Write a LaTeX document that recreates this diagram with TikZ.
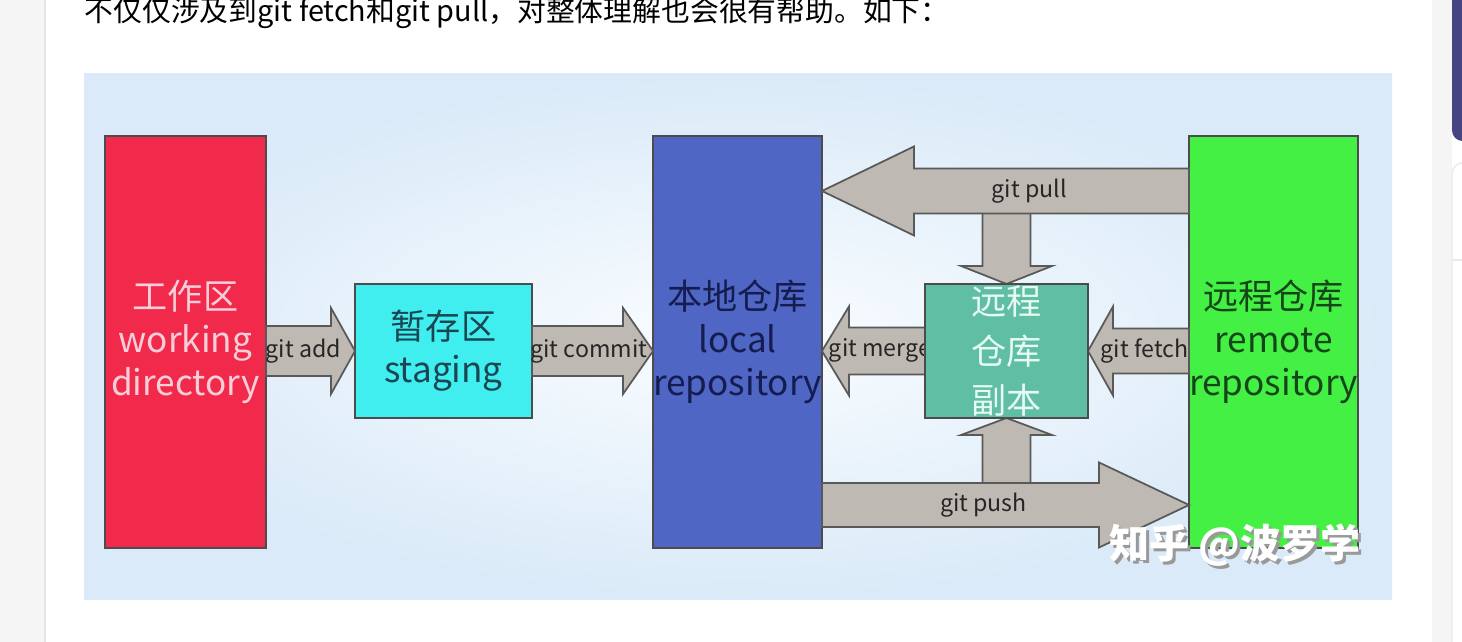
\documentclass[tikz,border=0pt]{standalone}
\usepackage{fontspec}
\setmainfont{Noto Sans CJK SC}
\usetikzlibrary{calc}

\definecolor{wdred}{RGB}{241,42,76}
\definecolor{stcyan}{RGB}{64,238,240}
\definecolor{locblue}{RGB}{79,102,196}
\definecolor{cpteal}{RGB}{96,190,164}
\definecolor{remgreen}{RGB}{68,240,68}
\definecolor{arrowgray}{RGB}{190,185,178}
\definecolor{bgin}{RGB}{250,253,255}
\definecolor{bgout}{RGB}{218,234,248}
\definecolor{sidepurple}{RGB}{70,68,130}

\tikzset{
  repo/.style={draw=black!70, line width=0.6pt, inner sep=0pt, outer sep=0pt,
    align=center, font=\fontsize{10}{12.2}\selectfont},
  blockarrow/.style={draw=black!65, line width=0.5pt, fill=arrowgray},
  lbl/.style={font=\fontsize{6.6}{8}\selectfont, text=black!85, inner sep=0pt},
}

% #1 start, #2 tip, #3 body half width, #4 head half width, #5 head length
\newcommand{\gitarrow}[5]{%
  \coordinate (hb) at ($(#2)!#5!(#1)$);
  \draw[blockarrow] ($(#1)!#3!90:(#2)$) -- ($(hb)!#3!90:(#2)$) -- ($(hb)!#4!90:(#2)$)
    -- (#2) -- ($(hb)!#4!-90:(#2)$) -- ($(hb)!#3!-90:(#2)$) -- ($(#1)!#3!-90:(#2)$) -- cycle;}

\begin{document}
\begin{tikzpicture}
\clip (0,0) rectangle (14.62,6.42);
\fill[white] (0,0) rectangle (14.62,6.42);
\fill[black!4] (0,0) rectangle (0.45,6.42);
\draw[black!10] (0.45,0) -- (0.45,6.42);
\fill[black!4] (14.32,0) rectangle (14.52,6.42);
\fill[sidepurple, rounded corners=3pt] (14.52,5.01) rectangle (14.8,6.6);
\filldraw[fill=white, draw=black!8, rounded corners=3pt] (14.52,-0.2) rectangle (14.8,4.79);
\draw[black!8] (14.52,3.82) -- (14.62,3.82);
\node[anchor=base west, inner sep=0pt, font=\fontsize{8.2}{9}\selectfont] (intro) at (0.84,6.2)
  {不仅仅涉及到git fetch和git pull，对整体理解也会很有帮助。如下：};

\shade[inner color=bgin, outer color=bgout] (0.84,0.42) rectangle (13.92,5.68);

\path node[repo, fill=wdred, text={rgb,255:red,248;green,206;blue,216},
    minimum width=1.61cm, minimum height=4.12cm] (wd) at (1.855,3.00) {工作区\\working\\directory}
  node[repo, fill=stcyan, text={rgb,255:red,25;green,70;blue,80},
    minimum width=1.77cm, minimum height=1.34cm] (stage) at (4.435,2.91) {暂存区\\staging}
  node[repo, fill=locblue, text={rgb,255:red,20;green,28;blue,80},
    minimum width=1.65cm, minimum height=4.12cm] (local) at (7.375,3.00) {本地仓库\\local\\repository}
  node[repo, fill=remgreen, text={rgb,255:red,20;green,70;blue,25},
    minimum width=1.62cm, minimum height=4.12cm] (remote) at (12.735,3.00) {远程仓库\\remote\\repository};

\coordinate (copyN) at (10.065,3.58);
\coordinate (copyS) at (10.065,2.24);
\coordinate (pullS) at ($(remote.north west)+(0,-0.55)$);
\coordinate (pullT) at (local.east |- pullS);
\coordinate (pushS) at ($(local.south east)+(0,0.43)$);
\coordinate (pushT) at (remote.west |- pushS);
\coordinate (downS) at (copyN |- pullS);
\coordinate (upS) at (copyS |- pushS);
\coordinate (addS) at (wd.east |- stage.west);
\coordinate (commitT) at (local.west |- stage.east);

\gitarrow{downS}{copyN}{0.24cm}{0.455cm}{0.18cm}
\gitarrow{upS}{copyS}{0.24cm}{0.455cm}{0.17cm}
\gitarrow{pullS}{pullT}{0.225cm}{0.445cm}{0.92cm}
\gitarrow{pushS}{pushT}{0.22cm}{0.425cm}{0.90cm}
\gitarrow{addS}{stage.west}{0.25cm}{0.43cm}{0.24cm}
\gitarrow{stage.east}{commitT}{0.25cm}{0.43cm}{0.30cm}

\node[lbl] (addlbl) at ($(addS)!0.42!(stage.west)$) {git add};
\node[lbl] (commitlbl) at ($(stage.east)!0.47!(commitT)$) {git commit};
\node[lbl] (pulllbl) at ($(pullS)!0.435!(pullT)$) {git pull};
\node[lbl] (pushlbl) at ($(pushS)!0.44!(pushT)$) {git push};

\coordinate (mergeS) at (9.25,2.91);
\coordinate (mergeT) at (local.east |- mergeS);
\coordinate (fetchS) at (remote.west |- mergeS);
\coordinate (fetchT) at (10.88,2.91);
\gitarrow{mergeS}{mergeT}{0.235cm}{0.445cm}{0.27cm}
\gitarrow{fetchS}{fetchT}{0.225cm}{0.445cm}{0.25cm}
\node[lbl] (mergelbl) at (8.80,2.92) {git merge};
\node[lbl] (fetchlbl) at ($(fetchS)!0.44!(fetchT)$) {git fetch};

\node[repo, fill=cpteal, text={rgb,255:red,228;green,250;blue,242},
    font=\fontsize{10}{14}\selectfont,
    minimum width=1.63cm, minimum height=1.34cm] (copy) at (10.065,2.91) {远程\\仓库\\副本};

\node[font=\bfseries\fontsize{11.4}{12}\selectfont, text=black!40] (markshadow) at (12.38,0.94) {知乎 @波罗学};
\node[font=\bfseries\fontsize{11.4}{12}\selectfont, text=white] (mark) at (12.35,0.97) {知乎 @波罗学};
\end{tikzpicture}
\end{document}
